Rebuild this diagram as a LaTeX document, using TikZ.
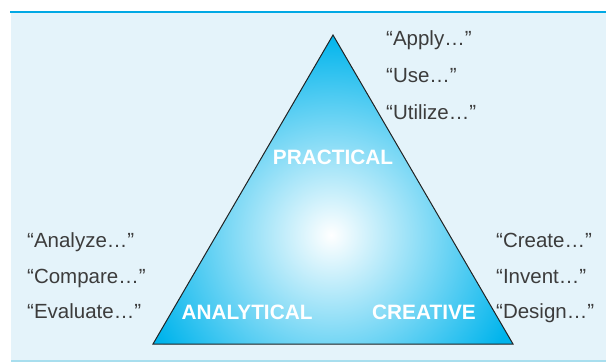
\documentclass[tikz,border=0pt]{standalone}
\usepackage{fontspec}
\setmainfont{Liberation Sans}
\definecolor{panelblue}{RGB}{228,243,250}
\definecolor{rulerblue}{RGB}{0,168,228}
\definecolor{rulelight}{RGB}{168,222,238}
\definecolor{tricyan}{RGB}{0,180,236}
\definecolor{edgegray}{RGB}{35,35,35}
\definecolor{verbgray}{RGB}{60,60,60}
\tikzset{
  verb/.style={anchor=base west, inner sep=0pt, text=verbgray, font=\fontsize{20.5}{23}\selectfont},
  skill/.style={anchor=base, inner sep=0pt, text=white, font=\fontsize{20.8}{23}\selectfont\bfseries}
}
\begin{document}
\begin{tikzpicture}[x=1pt,y=-1pt]
  \useasboundingbox (0,0) rectangle (606,362);
  % panel and its top and bottom rules
  \fill[panelblue] (11,12) rectangle (606,360);
  \draw[rulerblue, line width=2.5pt] (10,12) -- (606,12);
  \draw[rulelight, line width=1.5pt] (11,361) -- (606,361);
  % the triangle with its glowing centre
  \coordinate (top) at (333,35);
  \coordinate (bl) at (153,344);
  \coordinate (br) at (513,344);
  \begin{scope}
    \clip (top) -- (bl) -- (br) -- cycle;
    \fill[tricyan] (top) -- (bl) -- (br) -- cycle;
    \shade[inner color=white, outer color=tricyan] (331,235) circle[radius=200pt];
  \end{scope}
  \draw[edgegray, line width=1pt, line join=miter] (top) -- (bl) -- (br) -- cycle;
  % skill names
  \node[skill] (practical) at (333,164) {PRACTICAL};
  \node[skill] (analytical) at (247,319) {ANALYTICAL};
  \node[skill] (creative) at (424,319) {CREATIVE};
  % verbs beside each corner
  \node[verb] (apply) at (386,45) {“Apply…”};
  \node[verb] (use) at (386,82) {“Use…”};
  \node[verb] (utilize) at (386,119) {“Utilize…”};
  \node[verb] (analyze) at (27,247) {“Analyze…”};
  \node[verb] (compare) at (27,283) {“Compare…”};
  \node[verb] (evaluate) at (27,318) {“Evaluate…”};
  \node[verb] (create) at (496,247) {“Create…”};
  \node[verb] (invent) at (496,283) {“Invent…”};
  \node[verb] (design) at (496,318) {“Design…”};
\end{tikzpicture}
\end{document}
